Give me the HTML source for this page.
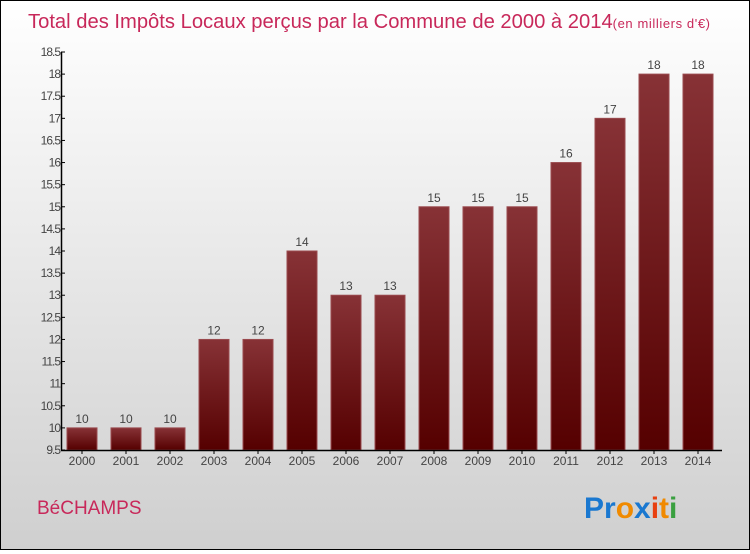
<!DOCTYPE html>
<html><head><meta charset="utf-8"><style>
body{margin:0;width:750px;height:550px;overflow:hidden}
#c{position:relative;width:748px;height:548px;border:1px solid #000;background:linear-gradient(#fff,#cfcfcf);font-family:"Liberation Sans",sans-serif}
</style></head><body>
<div id="c">
<svg id="s" width="748" height="548">
<defs><linearGradient id="g" x1="0" y1="0" x2="0" y2="1"><stop offset="0" stop-color="#873236"/><stop offset="1" stop-color="#550000"/></linearGradient></defs>
<text x="27" y="27" font-size="20.2" fill="#c8285a">Total des Impôts Locaux perçus par la Commune de 2000 à 2014<tspan font-size="13" letter-spacing="0.6">(en milliers d'€)</tspan></text>
<text x="36" y="513" font-size="19" fill="#c8285a">BéCHAMPS</text>
<text x="583" y="517" font-size="30" font-weight="bold"><tspan fill="#1a78d0">Pr</tspan><tspan fill="#f08a00">o</tspan><tspan fill="#1a78d0">x</tspan><tspan fill="#e84010">i</tspan><tspan fill="#f08a00">t</tspan><tspan fill="#3aa040">i</tspan></text>
<g id="plot"></g>
</svg></div>
<script>
const years=["2000","2001","2002","2003","2004","2005","2006","2007","2008","2009","2010","2011","2012","2013","2014"];
const values=[10,10,10,12,12,14,13,13,15,15,15,16,17,18,18];
const ticks=[9.5,10,10.5,11,11.5,12,12.5,13,13.5,14,14.5,15,15.5,16,16.5,17,17.5,18,18.5];
const ns="http://www.w3.org/2000/svg",g=document.getElementById('plot');
const y=v=>449-(v-9.5)*(398/9);
const x=i=>81+i*44;
function mk(t,a){const e=document.createElementNS(ns,t);for(const k in a)e.setAttribute(k,a[k]);g.appendChild(e);return e;}
values.forEach((v,i)=>{
 const r=mk('rect',{x:x(i)-15,y:y(v),width:30,height:y(9.5)-y(v),fill:'url(#g)',stroke:'#9a4a4e','stroke-width':1});
 
 
 const t=mk('text',{x:x(i),y:y(v)-5,'text-anchor':'middle','font-size':12,fill:'#444'});t.textContent=v;
 
 
 const l=mk('text',{x:x(i),y:y(9.5)+15,'text-anchor':'middle','font-size':12,fill:'#444'});l.textContent=years[i];
 
 
 mk('line',{x1:x(i),x2:x(i),y1:y(9.5),y2:y(9.5)+4,stroke:'#000'});
});
ticks.forEach(v=>{
 mk('line',{x1:60,x2:64,y1:y(v),y2:y(v),stroke:'#000'});
 const t=mk('text',{x:59,y:y(v)+4,'text-anchor':'end','font-size':12,fill:'#444','letter-spacing':'-1'});t.textContent=v;
 
 
});
const ax=mk('line',{x1:60.5,x2:60.5,y1:y(18.5),y2:y(9.5),stroke:'#000','stroke-width':1.5});


const bx=mk('line',{x1:60,x2:721,y1:y(9.5)+0.5,y2:y(9.5)+0.5,stroke:'#000','stroke-width':1.5});


</script>
</body></html>
